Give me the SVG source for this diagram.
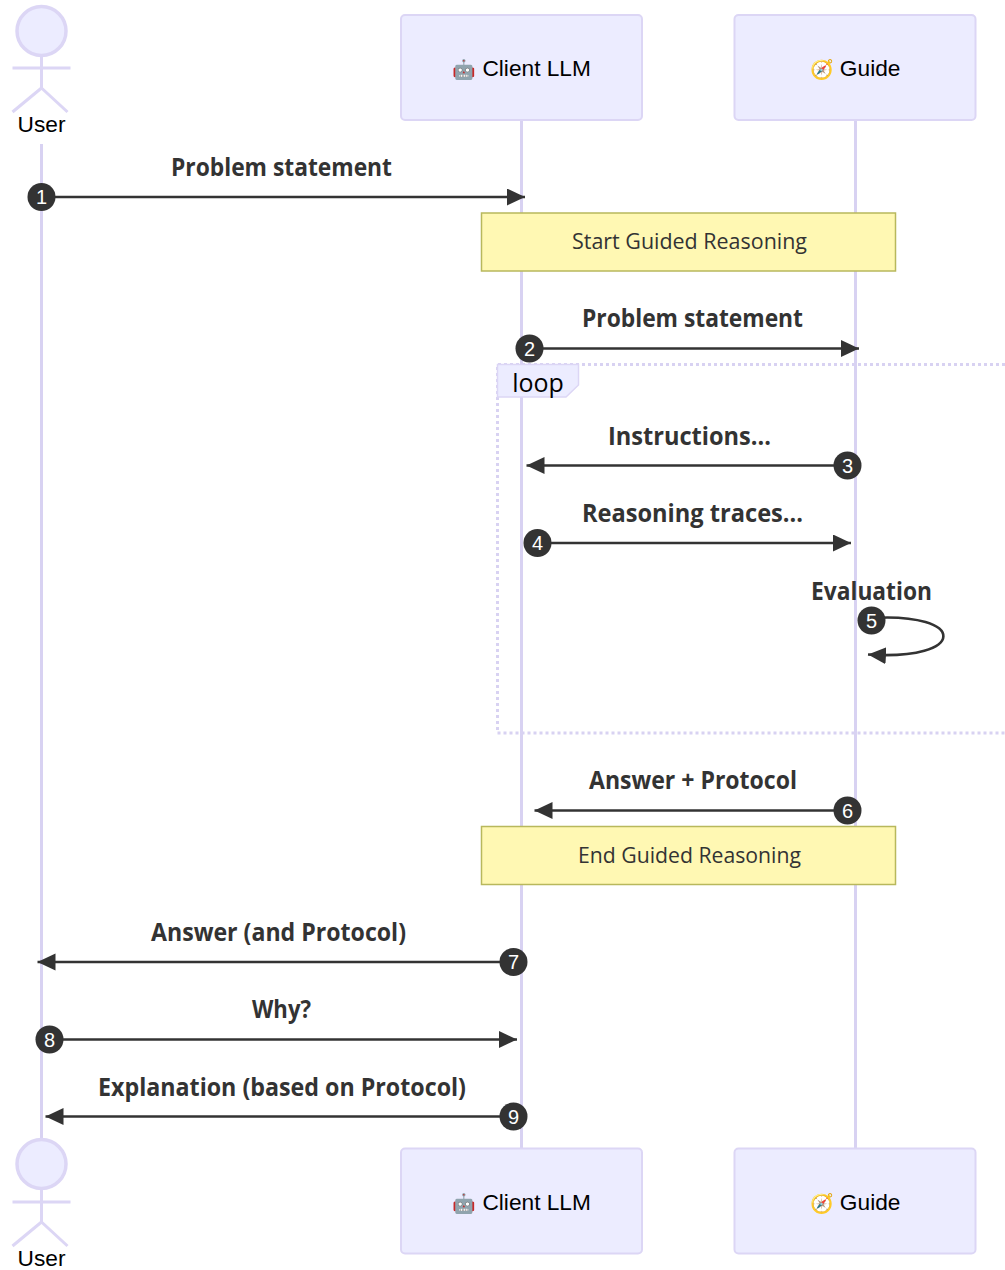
<svg xmlns="http://www.w3.org/2000/svg" width="1005" height="1270" viewBox="0 0 1005 1270">
<style>
.life{stroke:#d8d2f2;stroke-width:3;fill:none}
.box{fill:#ececff;stroke:#dcd6f5;stroke-width:2}
.act{fill:#ececff;stroke:#dcd6f5;stroke-width:3.5}
.lbl{font-family:"Liberation Sans",Arial,sans-serif;font-size:22.7px;fill:#000;text-anchor:middle}
.emo{font-size:19px}
.msg{font-family:"Open Sans","Noto Sans",sans-serif;font-weight:700;font-size:25px;fill:#333;text-anchor:middle}
.note{font-family:"Open Sans","Noto Sans",sans-serif;font-size:22px;fill:#333;text-anchor:middle}
.line{stroke:#333;stroke-width:2.6;fill:none;marker-end:url(#arrow)}
.num{fill:#333}
.numt{font-family:"Liberation Sans",Arial,sans-serif;font-size:20px;fill:#fff;text-anchor:middle}
.nb{fill:#fff8b3;stroke:#b8b85c;stroke-width:1.5}
.loopb{fill:none;stroke:#d8d2f2;stroke-width:3;stroke-dasharray:3 3}
</style>
<defs>
<marker id="arrow" markerUnits="userSpaceOnUse" markerWidth="18" markerHeight="18" refX="18" refY="8.5" orient="auto"><path d="M0 0L18 8.500L0 17z" fill="#333"/></marker>
</defs>
<g id="lifelines">
<line class="life" x1="41.500" y1="144" x2="41.500" y2="1140"/>
<line class="life" x1="521.500" y1="120" x2="521.500" y2="1148"/>
<line class="life" x1="855.500" y1="120" x2="855.500" y2="1148"/>
</g>
<g id="loop">
<path class="loopb" d="M1005 364.500H497.500V733H1005"/>
<path d="M497.500 364.500H578.500V385L566 397H497.500z" fill="#ececff" stroke="#dcd6f5" stroke-width="1.500"/>
<text x="538" y="392" style="font-family:'Open Sans','Noto Sans',sans-serif;font-size:25px;fill:#000;text-anchor:middle">loop</text>
</g>
<g id="user-top">
<circle class="act" cx="41.500" cy="31" r="24.500"/>
<path class="life" style="stroke:#dcd6f5" d="M41.500 55V88M12.500 68H70.500M41.500 88L12.500 112M41.500 88L67.500 112"/>
<text class="lbl" x="41.500" y="132">User</text>
</g>
<g id="client-top"><rect class="box" x="401" y="15" width="241" height="105" rx="4"/><text class="lbl" x="521.500" y="75.500"><tspan class="emo">🤖</tspan> Client LLM</text></g>
<g id="guide-top"><rect class="box" x="734.500" y="15" width="241" height="105" rx="4"/><text class="lbl" x="855" y="75.500"><tspan class="emo">🧭</tspan> Guide</text></g>
<g id="note-start"><rect class="nb" x="481.500" y="213" width="414" height="58"/><text class="note" x="689.500" y="249" textLength="235" lengthAdjust="spacingAndGlyphs">Start Guided Reasoning</text></g>
<g id="note-end"><rect class="nb" x="481.500" y="826.500" width="414" height="58"/><text class="note" x="689.500" y="862.500" textLength="223" lengthAdjust="spacingAndGlyphs">End Guided Reasoning</text></g>
<g id="connectors">
<line class="line" x1="41" y1="197" x2="525" y2="197"/>
<line class="line" x1="529" y1="348.500" x2="859" y2="348.500"/>
<line class="line" x1="847" y1="465.500" x2="526.500" y2="465.500"/>
<line class="line" x1="538" y1="543" x2="851" y2="543"/>
<path class="line" d="M871 618C968 612 968 661 868 654.500"/>
<line class="line" x1="847" y1="810.500" x2="534.500" y2="810.500"/>
<line class="line" x1="513" y1="962" x2="37.500" y2="962"/>
<line class="line" x1="49" y1="1039.500" x2="517" y2="1039.500"/>
<line class="line" x1="513" y1="1116.500" x2="45.500" y2="1116.500"/>
</g>
<g id="labels">
<text class="msg" x="281.500" y="175.500" textLength="221" lengthAdjust="spacingAndGlyphs">Problem statement</text>
<text class="msg" x="692.500" y="327" textLength="221" lengthAdjust="spacingAndGlyphs">Problem statement</text>
<text class="msg" x="689.500" y="444.500" textLength="163" lengthAdjust="spacingAndGlyphs">Instructions...</text>
<text class="msg" x="692.500" y="522" textLength="221" lengthAdjust="spacingAndGlyphs">Reasoning traces...</text>
<text class="msg" x="871.500" y="599.500" textLength="121" lengthAdjust="spacingAndGlyphs">Evaluation</text>
<text class="msg" x="693" y="789" textLength="208" lengthAdjust="spacingAndGlyphs">Answer + Protocol</text>
<text class="msg" x="278.500" y="940.500" textLength="255" lengthAdjust="spacingAndGlyphs">Answer (and Protocol)</text>
<text class="msg" x="281.500" y="1017.500" textLength="59" lengthAdjust="spacingAndGlyphs">Why?</text>
<text class="msg" x="282" y="1095.500" textLength="368" lengthAdjust="spacingAndGlyphs">Explanation (based on Protocol)</text>
</g>
<g id="badges">
<circle class="num" cx="41.500" cy="197" r="14"/><text class="numt" x="41.500" y="204">1</text>
<circle class="num" cx="529.500" cy="348.500" r="14"/><text class="numt" x="529.500" y="355.500">2</text>
<circle class="num" cx="847.500" cy="465.500" r="14"/><text class="numt" x="847.500" y="472.500">3</text>
<circle class="num" cx="537.500" cy="543" r="14"/><text class="numt" x="537.500" y="550">4</text>
<circle class="num" cx="871.500" cy="620.500" r="14"/><text class="numt" x="871.500" y="627.500">5</text>
<circle class="num" cx="847.500" cy="810.500" r="14"/><text class="numt" x="847.500" y="817.500">6</text>
<circle class="num" cx="513.500" cy="962" r="14"/><text class="numt" x="513.500" y="969">7</text>
<circle class="num" cx="49.500" cy="1039.500" r="14"/><text class="numt" x="49.500" y="1046.500">8</text>
<circle class="num" cx="513.500" cy="1116.500" r="14"/><text class="numt" x="513.500" y="1123.500">9</text>
</g>
<g id="user-bottom">
<circle class="act" cx="41.500" cy="1164" r="24.500"/>
<path class="life" style="stroke:#dcd6f5" d="M41.500 1188V1222M12.500 1202H70.500M41.500 1222L12.500 1246M41.500 1222L67.500 1246"/>
<text class="lbl" x="41.500" y="1266">User</text>
</g>
<g id="client-bottom"><rect class="box" x="401" y="1148.500" width="241" height="105" rx="4"/><text class="lbl" x="521.500" y="1209.500"><tspan class="emo">🤖</tspan> Client LLM</text></g>
<g id="guide-bottom"><rect class="box" x="734.500" y="1148.500" width="241" height="105" rx="4"/><text class="lbl" x="855" y="1209.500"><tspan class="emo">🧭</tspan> Guide</text></g>
</svg>
